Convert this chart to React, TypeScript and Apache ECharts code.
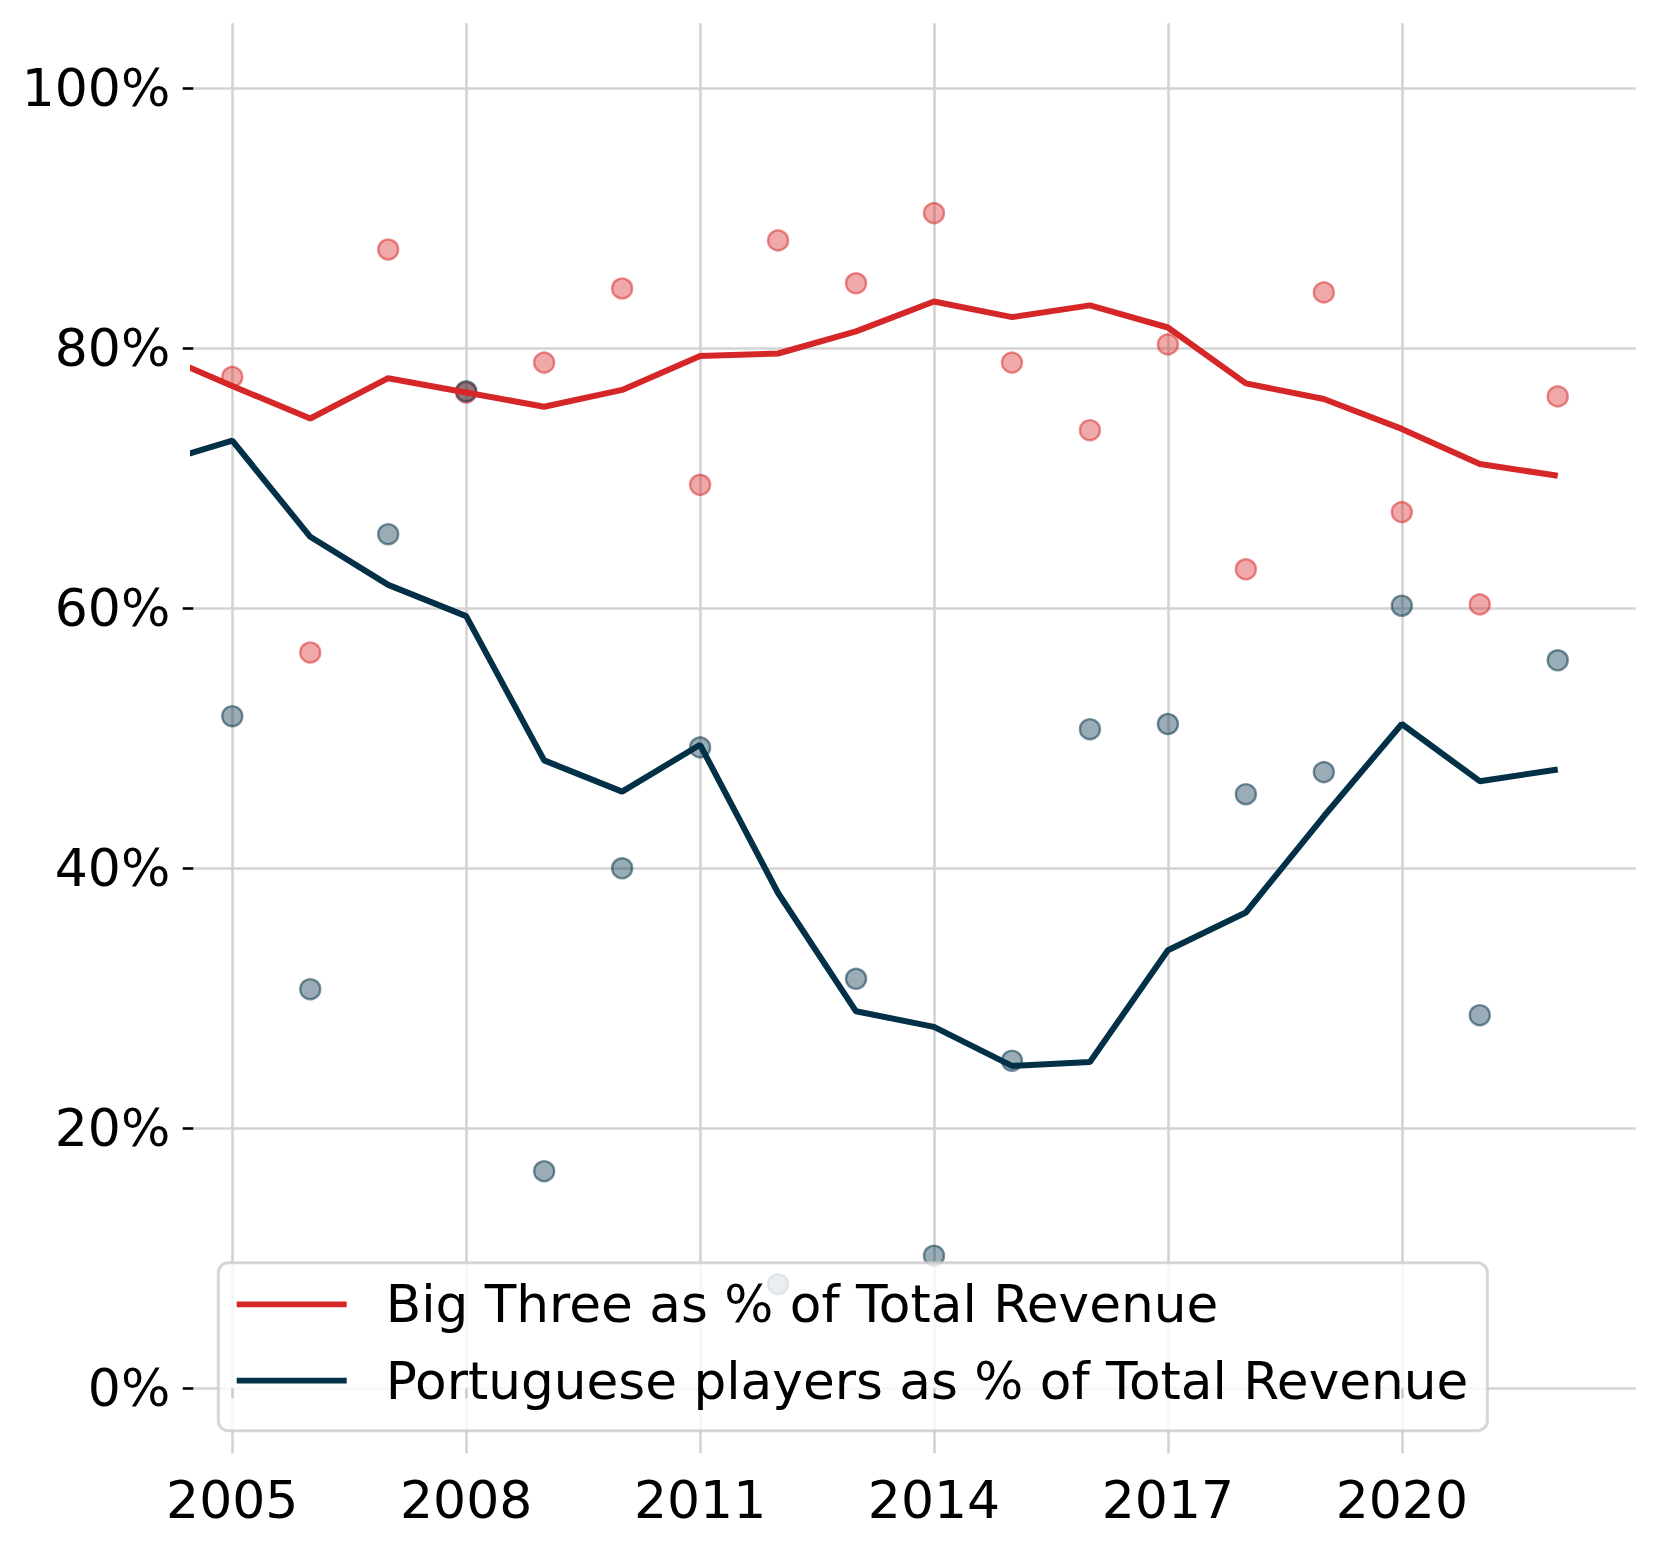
import React, { useEffect, useRef } from "react";
import * as echarts from "echarts";

const years = [2005, 2006, 2007, 2008, 2009, 2010, 2011, 2012, 2013, 2014, 2015, 2016, 2017, 2018, 2019, 2020, 2021, 2022];
const trendYears = [2004, 2005, 2006, 2007, 2008, 2009, 2010, 2011, 2012, 2013, 2014, 2015, 2016, 2017, 2018, 2019, 2020, 2021, 2022];

const bigThreeShare = [77.8, 56.6, 87.6, 76.6, 78.9, 84.6, 69.5, 88.3, 85.0, 90.4, 78.9, 73.7, 80.3, 63.0, 84.3, 67.4, 60.3, 76.3];
const portugueseShare = [51.7, 30.7, 65.7, 76.7, 16.7, 40.0, 49.3, 8.0, 31.5, 10.2, 25.2, 50.7, 51.1, 45.7, 47.4, 60.2, 28.7, 56.0];

const bigThreeTrend = [79.7, 77.1, 74.6, 77.7, 76.6, 75.5, 76.8, 79.4, 79.6, 81.3, 83.6, 82.4, 83.3, 81.6, 77.3, 76.1, 73.8, 71.1, 70.2];
const portugueseTrend = [71.1, 72.9, 65.5, 61.8, 59.4, 48.3, 45.9, 49.5, 38.1, 29.0, 27.8, 24.8, 25.1, 33.7, 36.6, 44.0, 51.1, 46.7, 47.6];

const xTicks = [2005, 2008, 2011, 2014, 2017, 2020];
const yTicks = [0, 20, 40, 60, 80, 100];

const seriesNames = [
  "Big Three as % of Total Revenue",
  "Portuguese players as % of Total Revenue",
];

const RED = "#d62728";
const NAVY = "#023047";
const FONT = "DejaVu Sans";

export default function App() {
  const ref = useRef<HTMLDivElement>(null);

  useEffect(() => {
    document.body.style.margin = "0";
    if (!ref.current) return;
    const chart = echarts.init(ref.current, undefined, { renderer: "svg" });

    const pair = (xs: number[], ys: number[]) => xs.map((x, i) => [x, ys[i]]);

    chart.setOption({
      animation: false,
      backgroundColor: "#ffffff",
      grid: { left: 193.3, right: 23.3, top: 23.3, bottom: 98.7, containLabel: false },
      xAxis: {
        type: "value",
        min: 2004.5,
        max: 2023,
        offset: 3.4,
        axisLine: { show: false },
        axisTick: {
          show: true,
          length: 10,
          customValues: xTicks,
          lineStyle: { color: "#000", width: 2.6 },
        },
        axisLabel: {
          customValues: xTicks,
          fontSize: 52,
          fontFamily: FONT,
          color: "#000",
          margin: 17,
          formatter: (v: number) => String(v),
        },
        splitLine: { show: true, lineStyle: { color: "#d3d3d3", width: 2.6 } },
      },
      yAxis: {
        type: "value",
        min: -5,
        max: 105,
        axisLine: { show: false },
        axisTick: {
          show: true,
          length: 10.6,
          customValues: yTicks,
          lineStyle: { color: "#000", width: 2.6 },
        },
        axisLabel: {
          customValues: yTicks,
          fontSize: 52,
          fontFamily: FONT,
          color: "#000",
          margin: 23,
          formatter: (v: number) => v + "%",
        },
        splitLine: { show: true, lineStyle: { color: "#d3d3d3", width: 2.6 } },
      },
      legend: {
        data: [
          { name: seriesNames[0], icon: "rect" },
          { name: seriesNames[1], icon: "rect" },
        ],
        orient: "vertical",
        left: 218.3,
        top: 1262.7,
        itemWidth: 110,
        itemHeight: 5.8,
        itemGap: 24.4,
        padding: [15.6, 19, 24, 18.4],
        backgroundColor: "rgba(255,255,255,0.8)",
        borderColor: "rgba(204,204,204,0.8)",
        borderWidth: 3,
        borderRadius: 10,
        selectedMode: false,
        textStyle: {
          fontSize: 51.7,
          fontFamily: FONT,
          color: "#000",
          lineHeight: 52,
          padding: [0, 0, 0, 34],
        },
      },
      series: [
        {
          type: "scatter",
          name: "bigThreePoints",
          data: pair(years, bigThreeShare),
          symbolSize: 20,
          itemStyle: { color: "rgba(214,39,40,0.5)", borderColor: "rgba(214,39,40,0.65)", borderWidth: 2.4 },
          z: 2,
          silent: true,
        },
        {
          type: "scatter",
          name: "portuguesePoints",
          data: pair(years, portugueseShare),
          symbolSize: 20,
          itemStyle: { color: "rgba(2,48,71,0.5)", borderColor: "rgba(2,48,71,0.65)", borderWidth: 2.4 },
          z: 2,
          silent: true,
        },
        {
          type: "line",
          name: seriesNames[0],
          data: pair(trendYears, bigThreeTrend),
          symbol: "none",
          color: RED,
          lineStyle: { color: RED, width: 6 },
          z: 3,
          silent: true,
        },
        {
          type: "line",
          name: seriesNames[1],
          data: pair(trendYears, portugueseTrend),
          symbol: "none",
          color: NAVY,
          lineStyle: { color: NAVY, width: 6 },
          z: 3,
          silent: true,
        },
      ],
    });

    return () => chart.dispose();
  }, []);

  return <div ref={ref} style={{ width: 1659, height: 1552 }} />;
}
